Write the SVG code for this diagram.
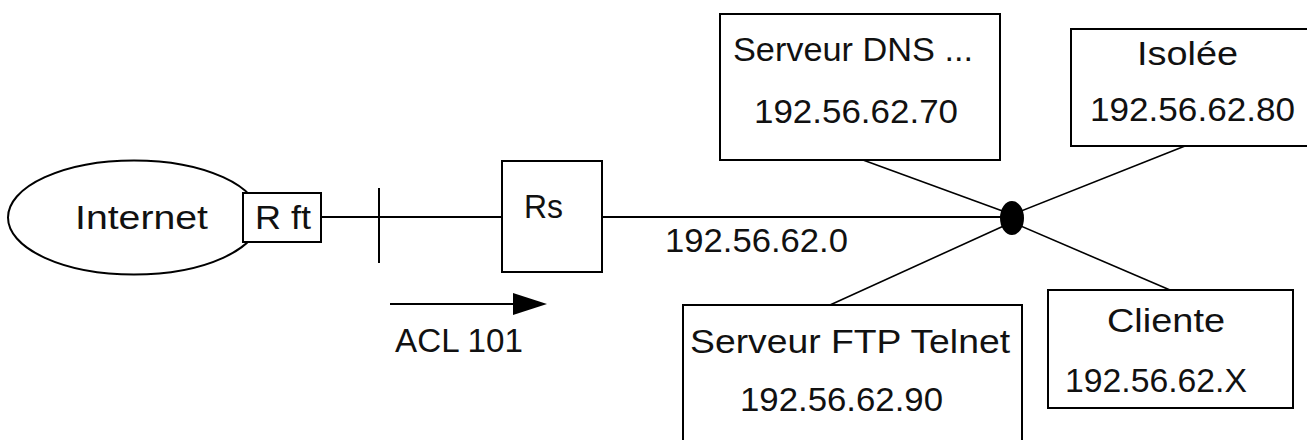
<svg xmlns="http://www.w3.org/2000/svg" width="1307" height="440" viewBox="0 0 1307 440">
<style>
.box{fill:#fff;stroke:#000;stroke-width:2}
.ln{stroke:#000;stroke-width:2;fill:none}
.dg{stroke:#000;stroke-width:1.6;fill:none}
text{font-family:"Liberation Sans",Arial,sans-serif;font-size:33px;fill:#111}
</style>
<rect width="1307" height="440" fill="#fff"/>
<g id="connectors">
<line class="ln" x1="321" y1="217" x2="502" y2="217"/>
<line class="ln" x1="379" y1="188" x2="379" y2="263"/>
<line class="ln" x1="602" y1="217" x2="1005" y2="217"/>
<line class="dg" x1="863" y1="160" x2="1008" y2="213"/>
<line class="dg" x1="1185" y1="146" x2="1016" y2="213"/>
<line class="dg" x1="830" y1="305" x2="1008" y2="224"/>
<line class="dg" x1="1170" y1="290" x2="1016" y2="224"/>
</g>
<g id="internet">
<ellipse class="box" cx="134" cy="217.5" rx="126" ry="57"/>
<text x="75" y="229" textLength="133" lengthAdjust="spacingAndGlyphs">Internet</text>
</g>
<g id="rft">
<rect class="box" x="243" y="193" width="78" height="49"/>
<text x="255" y="229" textLength="56" lengthAdjust="spacingAndGlyphs">R ft</text>
</g>
<g id="rs">
<rect class="box" x="502" y="161" width="100" height="111"/>
<text x="524" y="218" textLength="39" lengthAdjust="spacingAndGlyphs">Rs</text>
</g>
<g id="acl">
<line class="ln" x1="390" y1="304" x2="515" y2="304"/>
<polygon points="513,293 547,304 513,315" fill="#000"/>
<text x="395" y="352" textLength="128" lengthAdjust="spacingAndGlyphs">ACL 101</text>
</g>
<g id="net-label">
<text x="665" y="252" textLength="183" lengthAdjust="spacingAndGlyphs">192.56.62.0</text>
</g>
<g id="hub">
<ellipse cx="1012" cy="218" rx="12" ry="17" fill="#000"/>
</g>
<g id="dns">
<rect class="box" x="720" y="14" width="280" height="146"/>
<text x="733" y="61" textLength="240" lengthAdjust="spacingAndGlyphs">Serveur DNS ...</text>
<text x="754" y="123" textLength="204" lengthAdjust="spacingAndGlyphs">192.56.62.70</text>
</g>
<g id="isolee">
<rect class="box" x="1071" y="29" width="241" height="117"/>
<text x="1137" y="65" textLength="101" lengthAdjust="spacingAndGlyphs">Isolée</text>
<text x="1090" y="121" textLength="205" lengthAdjust="spacingAndGlyphs">192.56.62.80</text>
</g>
<g id="ftp">
<rect class="box" x="683" y="305" width="339" height="145"/>
<text x="690" y="353" textLength="320" lengthAdjust="spacingAndGlyphs">Serveur FTP Telnet</text>
<text x="740" y="411" textLength="203" lengthAdjust="spacingAndGlyphs">192.56.62.90</text>
</g>
<g id="cliente">
<rect class="box" x="1048" y="290" width="245" height="118"/>
<text x="1107" y="332" textLength="118" lengthAdjust="spacingAndGlyphs">Cliente</text>
<text x="1065" y="392" textLength="182" lengthAdjust="spacingAndGlyphs">192.56.62.X</text>
</g>
</svg>
